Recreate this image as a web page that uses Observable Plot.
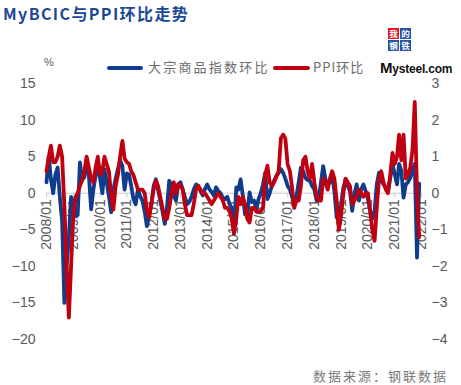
<!DOCTYPE html>
<html>
<head>
<meta charset="utf-8">
<script src="https://cdn.jsdelivr.net/npm/d3@7"></script>
<script src="https://cdn.jsdelivr.net/npm/@observablehq/plot@0.6"></script>
<style>
  html, body { margin: 0; padding: 0; background: #fff; }
  #wrap { position: relative; width: 461px; height: 385px; overflow: hidden; font-family: "Liberation Sans", Arial, sans-serif; }
  #wrap svg { position: absolute; left: 0; top: 0; }
  .abs { position: absolute; white-space: nowrap; }
  #title { left: 3px; top: 3px; font-family: "Noto Sans CJK SC", sans-serif; font-weight: 700; font-size: 16px; letter-spacing: 1.4px; color: #1b4797; line-height: 20px; }
  .leg { font-family: "Noto Sans CJK SC", sans-serif; font-size: 13px; color: #6b6b6b; line-height: 16px; top: 59px; }
  .sw { height: 4px; top: 66px; border-radius: 2px; }
  #pct { left: 44px; top: 56px; font-size: 11px; color: #595959; }
  #src { left: 313px; top: 366px; font-family: "Noto Sans CJK SC", sans-serif; font-size: 13px; letter-spacing: 2px; color: #7a7a7a; }
  .box { width: 11px; height: 11px; overflow: hidden; font-family: "Noto Sans CJK SC", sans-serif; font-size: 8.5px; line-height: 11px; text-align: center; color: #fff; font-weight: 700; }
  #mys { left: 380px; top: 59px; font-family: "Liberation Sans", Arial, sans-serif; font-weight: 700; font-size: 12px; color: #111; letter-spacing: -0.2px; }
</style>
</head>
<body>
<div id="wrap">
  <div id="chart"></div>
  <div id="title" class="abs">MyBCIC与PPI环比走势</div>
  <div id="pct" class="abs">%</div>
  <div class="abs sw" style="left:107px;width:36px;background:#0f3d8c"></div>
  <div class="abs leg" style="left:148px;letter-spacing:2.2px">大宗商品指数环比</div>
  <div class="abs sw" style="left:273px;width:37px;background:#c00010"></div>
  <div class="abs leg" style="left:313px;letter-spacing:1px">PPI环比</div>
  <div class="abs box" style="left:388px;top:28px;background:#e5141c">我</div>
  <div class="abs box" style="left:400px;top:28px;background:#2456a8">的</div>
  <div class="abs box" style="left:388px;top:40px;background:#2456a8">钢</div>
  <div class="abs box" style="left:400px;top:40px;background:#2456a8">铁</div>
  <div id="mys" class="abs"><span style="font-size:15px">M</span>ysteel.com</div>
  <div id="src" class="abs">数据来源：钢联数据</div>
</div>
<script>
// Monthly series, 2008/01 – 2021/12
const startYear = 2008;
const yTicks = [-20, -15, -10, -5, 0, 5, 10, 15];
const yearLabels = ["2008/01","2009/01","2010/01","2011/01","2012/01","2013/01","2014/01","2015/01","2016/01","2017/01","2018/01","2019/01","2020/01","2021/01","2022/01"];

// MyBCIC month-on-month (%), left axis
const mybcic = [
  1.5, 5.0, 2.0, 0.0, 2.5, 3.5, -0.5, -3.8, -15.0, -10.0, -6.0, -0.5,
  -1.3, -3.1, -3.0, 4.2, 1.9, 2.2, 4.0, 2.5, -2.2, 0.5, 2.4, 3.7,
  2.0, 0.0, 3.3, 1.5, -0.4, -2.6, 0.5, 2.0, 3.3, 4.5, 3.7, 0.5,
  2.7, 2.5, 1.0, -0.8, -1.5, 0.5, -0.4, -1.0, -2.5, -4.5, -3.0, -1.5,
  1.0, 1.9, 0.5, -1.0, -2.5, -4.2, -2.0, 1.7, 1.0, -0.3, -1.0, 1.2,
  1.5, 0.5, -0.5, -1.5, -1.2, -0.5, 0.5, 1.2, 1.0, 0.3, -0.3, 0.6,
  1.2, 0.5, 0.2, -0.3, 0.8, 0.3, 0.0, -0.6, -0.8, -0.5, -1.5, -2.0,
  -5.5, 0.8, 0.5, 1.9, -0.3, -2.9, -3.1, 0.1, -1.2, -1.0, -2.2, -0.8,
  0.0, 1.2, 2.8, -0.8, 0.0, 1.0, 1.7, 2.4, 2.8, 3.3, 2.8, 2.0,
  1.0, 0.5, -0.4, -1.5, -0.5, 1.5, 3.5, 3.0, 2.1, 1.8, 1.7, 1.0,
  0.5, -1.0, -0.8, 1.5, 3.7, 1.9, 1.2, 1.5, 2.4, 0.3, -3.3, -3.8,
  -1.5, 0.8, 1.7, 1.0, 0.3, -2.4, -0.1, 1.2, -1.0, 0.5, 1.2, 0.3,
  -0.8, -2.4, -3.5, -2.5, 1.2, 2.8, 1.7, 1.2, 0.8, 0.3, 2.1, 4.0,
  2.6, 1.2, 4.0, 3.1, -0.6, 1.2, 1.5, 2.1, 3.0, 4.0, -8.8, 1.3
];

// PPI month-on-month (%), right axis
const ppi = [
  0.6, 1.0, 1.3, 0.85, 0.85, 1.0, 1.3, 1.0, -0.35, -2.0, -3.4, -2.0,
  -0.6, -0.1, 0.0, 0.2, 0.35, 0.6, 1.0, 0.7, 0.4, 0.3, 0.7, 1.0,
  0.5, 0.6, 1.0, 0.8, 0.6, -0.1, -0.45, 0.2, 0.5, 1.0, 1.43, 0.95,
  0.85, 0.8, 0.6, 0.5, 0.3, 0.1, 0.1, 0.1, 0.0, -0.45, -0.66, -0.3,
  0.1, 0.34, 0.2, -0.1, -0.4, -0.7, -0.7, -0.4, 0.0, 0.3, 0.0, 0.25,
  0.2, 0.1, -0.3, -0.6, -0.6, -0.6, -0.3, 0.1, 0.2, 0.1, 0.0, 0.0,
  -0.1, -0.2, -0.3, -0.2, -0.1, 0.0, -0.1, -0.2, -0.4, -0.4, -0.5, -0.7,
  -1.1, -0.7, -0.1, -0.3, -0.1, -0.3, -0.7, -0.8, -0.4, -0.4, -0.5, -0.5,
  -0.5, -0.4, 0.5, 0.75, 0.3, 0.2, 0.3, 0.45, 0.6, 1.5, 1.6, 1.5,
  0.8, 0.6, 0.2, -0.4, -0.2, -0.2, 0.2, 0.9, 1.0, 0.6, 0.4, 0.8,
  0.3, -0.1, -0.2, -0.2, 0.4, 0.3, 0.1, 0.4, 0.6, 0.4, -0.2, -1.0,
  -0.6, 0.0, 0.4, 0.3, 0.2, -0.3, -0.2, -0.1, 0.1, 0.0, -0.1, 0.0,
  0.0, -0.5, -1.0, -1.3, -0.4, 0.4, 0.6, 0.3, 0.1, 0.0, 0.5, 1.1,
  0.8, 1.0, 1.6, 0.9, 1.6, 0.4, 0.5, 0.7, 1.2, 2.5, 0.0, -1.2
];

const ratio = 5; // left axis / right axis
const blue = "#0f3d8c", red = "#c00010";

const data = mybcic.map((v, i) => ({
  date: new Date(Date.UTC(startYear, i, 1)),
  bcic: v,
  ppi: ppi[i]
}));
const yearDates = yearLabels.map(s => new Date(Date.UTC(+s.slice(0, 4), +s.slice(5) - 1, 1)));
const fmt = d3.format("");

const chart = Plot.plot({
  width: 461,
  height: 385,
  marginTop: 83,
  marginBottom: 46,
  marginLeft: 46,
  marginRight: 40,
  style: { fontFamily: "'Liberation Sans', Arial, sans-serif", fontSize: "14px", color: "#595959", background: "transparent" },
  x: { type: "utc", domain: [yearDates[0], yearDates[yearDates.length - 1]], axis: null },
  y: { domain: [-20, 15], axis: null },
  marks: [
    Plot.ruleY([0], { stroke: "#c9c9c9", strokeWidth: 1 }),
    Plot.ruleX(yearDates, { x: d => d, y1: 0, y2: -0.6, stroke: "#c9c9c9", strokeWidth: 1 }),
    Plot.axisY({ anchor: "left", ticks: yTicks, tickSize: 0, tickPadding: 11, fontSize: 14, fill: "#595959", label: null }),
    Plot.axisY({ anchor: "right", ticks: yTicks, tickSize: 0, tickPadding: 10, fontSize: 14, fill: "#595959", label: null, tickFormat: d => fmt(d / ratio) }),
    Plot.text(yearDates, { x: d => d, y: 0, text: (d, i) => yearLabels[i], rotate: -90, textAnchor: "end", dy: 6, fontSize: 14, fill: "#595959" }),
    Plot.line(data, { x: "date", y: "bcic", stroke: blue, strokeWidth: 3.8, strokeLinejoin: "round" }),
    Plot.line(data, { x: "date", y: d => d.ppi * ratio, stroke: red, strokeWidth: 3.8, strokeLinejoin: "round" })
  ]
});
document.getElementById("chart").appendChild(chart);
</script>
</body>
</html>
